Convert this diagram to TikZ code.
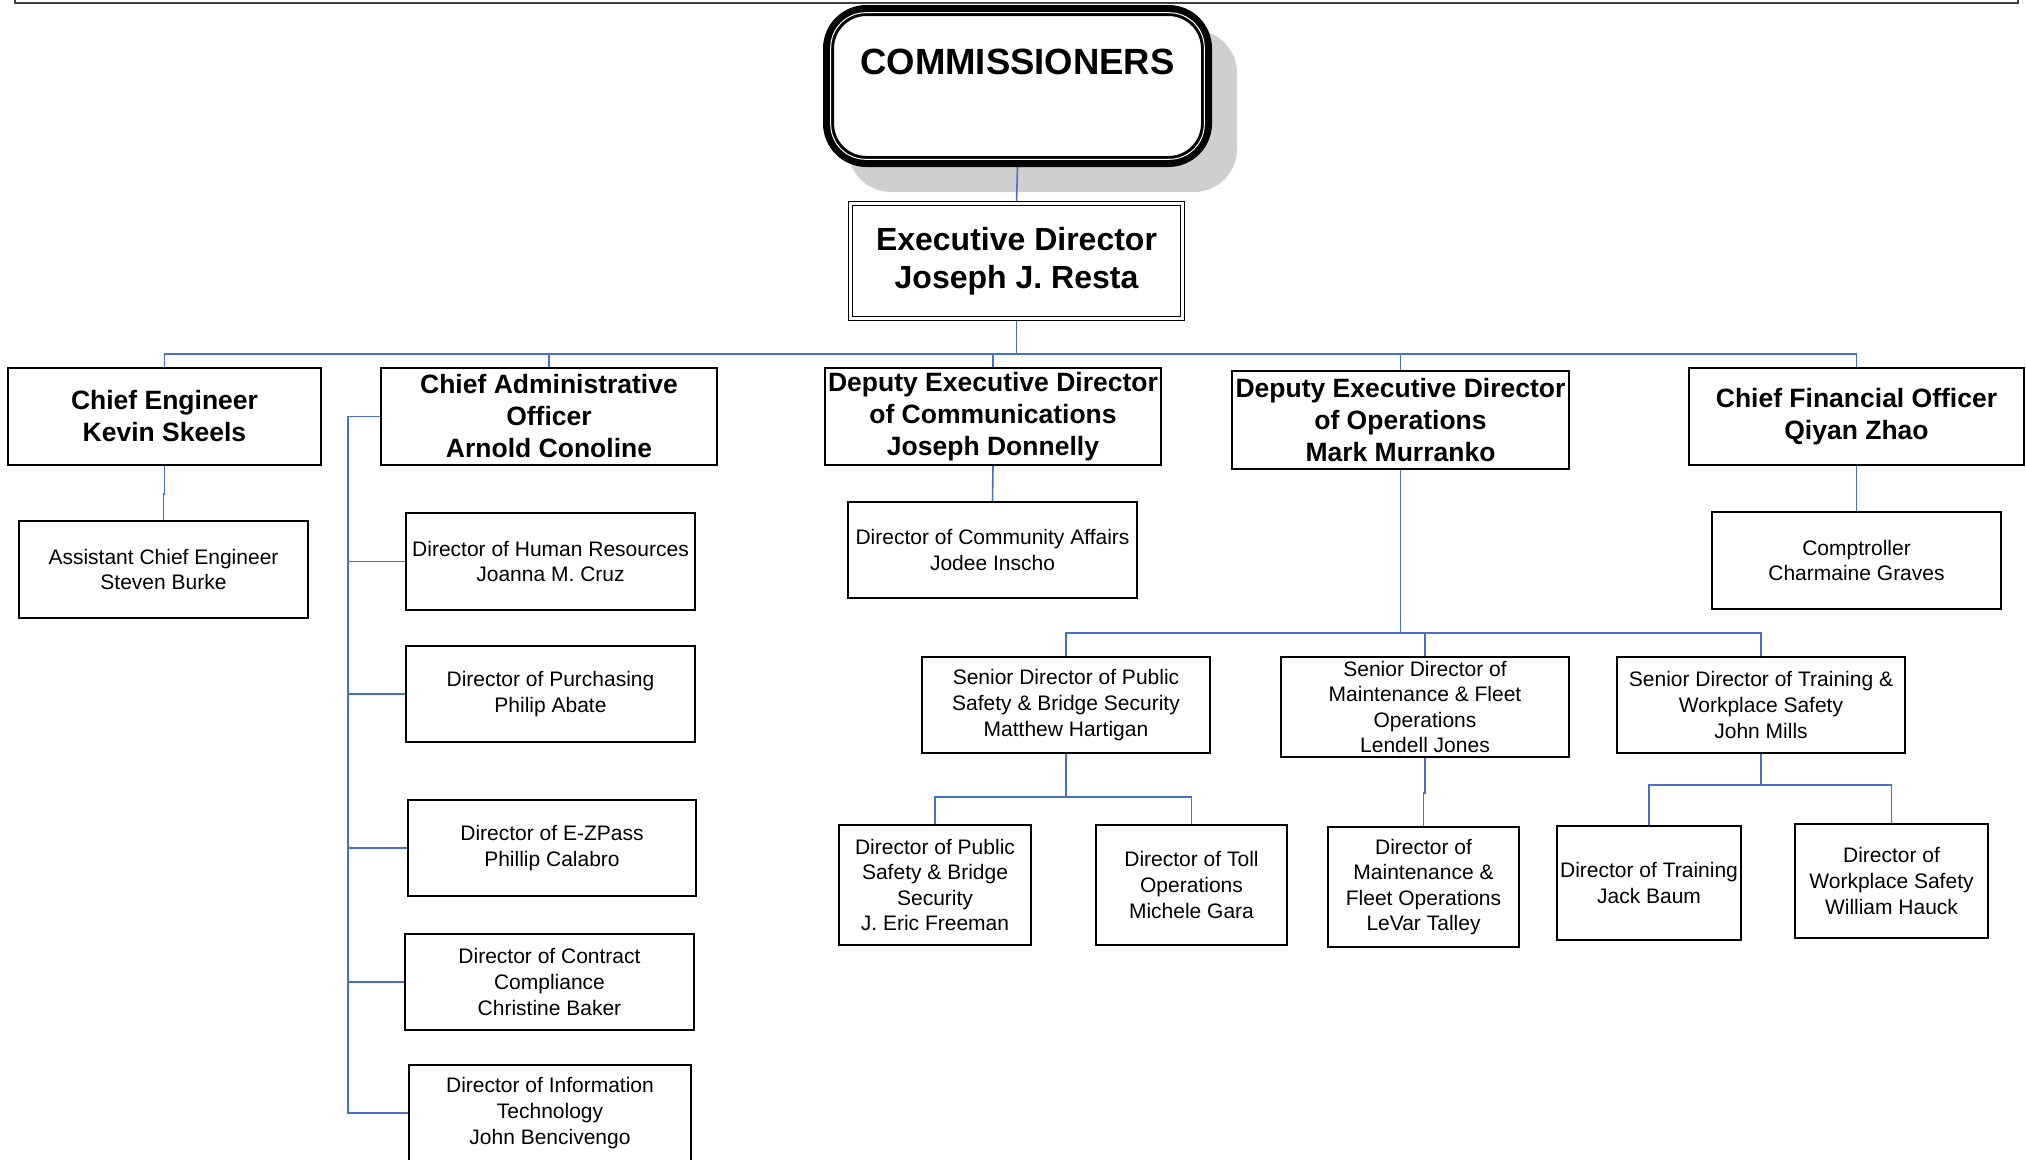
\documentclass[tikz,border=0pt]{standalone}
\usepackage{fontspec}
\setmainfont{Liberation Sans}
\usetikzlibrary{backgrounds}
\definecolor{linkblue}{HTML}{4472C4}
\definecolor{shadowgray}{HTML}{CFCFCF}
\definecolor{framegray}{HTML}{404040}
\newcommand{\dirfont}{\fontsize{21}{25.6}\selectfont}
\newcommand{\chieffont}{\fontsize{26.5}{32}\selectfont\bfseries}
\newcommand{\execfont}{\fontsize{32}{38.5}\selectfont\bfseries}
\newcommand{\commfont}{\fontsize{36.5}{43}\selectfont\bfseries}

\begin{document}
\begin{tikzpicture}[x=1pt, y=-1pt,
    box/.style={draw, line width=1.5pt, inner sep=0pt, align=center, font=\dirfont},
    chief/.style={box, font=\chieffont},
    link/.style={linkblue, line width=1.6pt}]
    \useasboundingbox (0,0) rectangle (2026,1159);

    % Frame edge at top
    \draw[framegray, line width=1.5pt] (15,0) -- (15,3) -- (2018,3) -- (2018,0);

    % Board and executive director
    \node[draw, fill=white, line width=11pt, rounded corners=38pt, minimum width=378pt, minimum height=151pt,
          inner sep=0pt, font=\commfont, text height=26pt, text depth=50pt] (comm) at (1017.5,86) {COMMISSIONERS};
    \draw[white, line width=1pt, rounded corners=35pt] ([shift={(7.7,7.7)}]comm.north west) rectangle ([shift={(-7.7,-7.7)}]comm.south east);
    \node[box, font=\execfont, double, line width=1.2pt, double distance=2.6pt, minimum width=332pt, minimum height=115pt]
        (exec) at (1016.5,261) {Executive Director\\Joseph J. Resta};

    % Chiefs and deputies
    \node[chief, minimum width=313pt, minimum height=97pt] (ce) at (164.5,416.5) {Chief Engineer\\Kevin Skeels};
    \node[chief, minimum width=336pt, minimum height=97pt] (cao) at (549,416.5) {Chief Administrative\\Officer\\Arnold Conoline};
    \node[chief, minimum width=336pt, minimum height=97pt] (dedc) at (993,416.5) {Deputy Executive Director\\of Communications\\Joseph Donnelly};
    \node[chief, minimum width=337pt, minimum height=98pt] (dedo) at (1400.5,420) {Deputy Executive Director\\of Operations\\Mark Murranko};
    \node[chief, minimum width=335pt, minimum height=97pt] (cfo) at (1856.5,416.5) {Chief Financial Officer\\Qiyan Zhao};

    % Directors under the chiefs
    \node[box, minimum width=289pt, minimum height=97pt] (ace) at (163.5,569.5) {Assistant Chief Engineer\\Steven Burke};
    \node[box, minimum width=289pt, minimum height=97pt] (dhr) at (550.5,561.5) {Director of Human Resources\\Joanna M. Cruz};
    \node[box, minimum width=289pt, minimum height=96pt] (dpu) at (550.5,694) {Director of Purchasing\\Philip Abate};
    \node[box, minimum width=288pt, minimum height=96pt] (dez) at (552,848) {Director of E-ZPass\\Phillip Calabro};
    \node[box, minimum width=289pt, minimum height=96pt] (dcc) at (549.5,982) {Director of Contract\\Compliance\\Christine Baker};
    \node[box, minimum width=282pt, minimum height=96pt] (dit) at (550,1113) {Director of Information\\Technology\\John Bencivengo};
    \node[box, minimum width=289pt, minimum height=96pt] (dca) at (992.5,550) {Director of Community Affairs\\Jodee Inscho};
    \node[box, minimum width=289pt, minimum height=97pt] (cmp) at (1856.5,560.5) {Comptroller\\Charmaine Graves};

    % Operations
    \node[box, minimum width=288pt, minimum height=96pt] (sdps) at (1066,705) {Senior Director of Public\\Safety \& Bridge Security\\Matthew Hartigan};
    \node[box, minimum width=288pt, minimum height=100pt] (sdm) at (1425,707) {Senior Director of\\Maintenance \& Fleet\\Operations\\Lendell Jones};
    \node[box, minimum width=288pt, minimum height=96pt] (sdt) at (1761,705) {Senior Director of Training \&\\Workplace Safety\\John Mills};
    \node[box, minimum width=192pt, minimum height=120pt] (dps) at (935,885) {Director of Public\\Safety \& Bridge\\Security\\J. Eric Freeman};
    \node[box, minimum width=191pt, minimum height=120pt] (dto) at (1191.5,885) {Director of Toll\\Operations\\Michele Gara};
    \node[box, minimum width=191pt, minimum height=120pt] (dmf) at (1423.5,887) {Director of\\Maintenance \&\\Fleet Operations\\LeVar Talley};
    \node[box, minimum width=184pt, minimum height=114pt] (dtr) at (1649,883) {Director of Training\\Jack Baum};
    \node[box, minimum width=193pt, minimum height=114pt] (dws) at (1891.5,881) {Director of\\Workplace Safety\\William Hauck};

    % Connectors
    \begin{scope}[on background layer]
        \fill[shadowgray, rounded corners=43pt] ([shift={(25,25)}]comm.north west) rectangle ([shift={(25,25)}]comm.south east);
        \draw[link] (comm.south) -- (exec.north);
        \draw[link] (exec.south) -- ++(0,35) coordinate (ebus);
        \foreach \n in {ce,cao,dedc,dedo,cfo}
            \draw[link] (ebus) -| (\n.north);
        \draw[link] (ce.south) -- ++(0,28) -| (ace.north);
        \draw[link] (cao.west) -- ++(-32,0) coordinate (atrunk) |- (dit.west);
        \foreach \n in {dhr,dpu,dez,dcc}
            \draw[link] (atrunk |- \n.west) -- (\n.west);
        \draw[link] (dedc.south) -- (dca.north);
        \draw[link] (cfo.south) -- (cmp.north);
        \draw[link] (dedo.south) -- ++(0,163) coordinate (obus);
        \foreach \n in {sdps,sdm,sdt}
            \draw[link] (obus) -| (\n.north);
        \draw[link] (sdps.south) -- ++(0,43) coordinate (pbus) -| (dps.north);
        \draw[link] (pbus) -| (dto.north);
        \draw[link] (sdm.south) -- ++(0,35) -| (dmf.north);
        \draw[link] (sdt.south) -- ++(0,31) coordinate (tbus) -| (dtr.north);
        \draw[link] (tbus) -| (dws.north);
    \end{scope}
\end{tikzpicture}
\end{document}
